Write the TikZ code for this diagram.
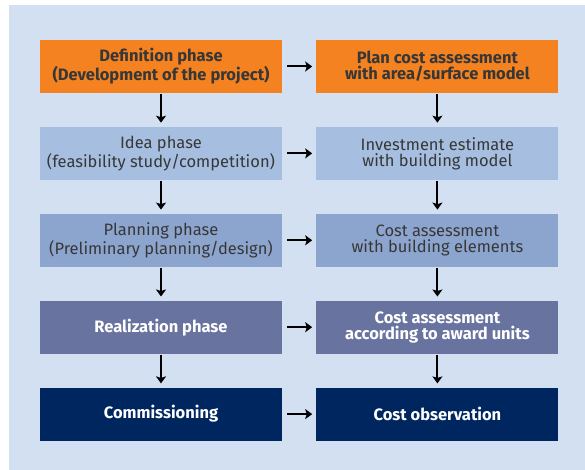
\documentclass[tikz,border=0pt]{standalone}
\usepackage{fontspec}
\setmainfont{Fira Sans}
\usepackage{tikz}
\usetikzlibrary{arrows.meta, positioning}
\definecolor{bgcolor}{RGB}{210,224,242}
\definecolor{defcolor}{RGB}{244,130,32}
\definecolor{ideacolor}{RGB}{166,191,224}
\definecolor{plancolor}{RGB}{140,165,207}
\definecolor{realcolor}{RGB}{104,115,160}
\definecolor{commcolor}{RGB}{0,38,96}
\definecolor{textgray}{RGB}{55,55,55}

\begin{document}
\begin{tikzpicture}[
    x=1pt, y=1pt,
    >={Stealth[length=7pt, width=10pt, inset=1.5pt]},
    phase/.style={minimum width=242pt, minimum height=53pt, inner sep=0pt, align=center,
        font=\fontsize{16.5}{16}\selectfont, text=textgray},
    strong/.style={font=\fontsize{16.5}{16}\selectfont\bfseries},
    light/.style={strong, text=white},
    flow/.style={->, line width=2pt, shorten <=5pt, shorten >=4pt},
    down/.style={->, line width=2pt, shorten <=1pt, shorten >=4pt},
    node distance=33.5pt and 34pt,
]
    \useasboundingbox (0,0) rectangle (585,470);
    \fill[bgcolor] (9,0) rectangle (585,465);

    % left column: phases
    \node[phase, strong, fill=defcolor] (def) at (161,403.5) {Definition phase\\(Development of the project)};
    \node[phase, fill=ideacolor, below=of def] (idea) {Idea phase\\(feasibility study/competition)};
    \node[phase, fill=plancolor, below=of idea] (plan) {Planning phase\\(Preliminary planning/design)};
    \node[phase, light, fill=realcolor, below=of plan] (real) {Realization phase};
    \node[phase, light, fill=commcolor, below=of real] (comm) {Commissioning};

    % right column: costs
    \node[phase, strong, fill=defcolor, right=of def] (area) {Plan cost assessment\\with area/surface model};
    \node[phase, fill=ideacolor, right=of idea] (inv) {Investment estimate\\with building model};
    \node[phase, fill=plancolor, right=of plan] (elem) {Cost assessment\\with building elements};
    \node[phase, light, fill=realcolor, right=of real] (award) {Cost assessment\\according to award units};
    \node[phase, light, fill=commcolor, right=of comm] (obs) {Cost observation};

    \foreach \a/\b in {def/area, idea/inv, plan/elem, real/award, comm/obs}
        \draw[flow] (\a) -- (\b);
    \foreach \a/\b in {def/idea, idea/plan, plan/real, real/comm, area/inv, inv/elem, elem/award, award/obs}
        \draw[down] (\a) -- (\b);
\end{tikzpicture}
\end{document}
